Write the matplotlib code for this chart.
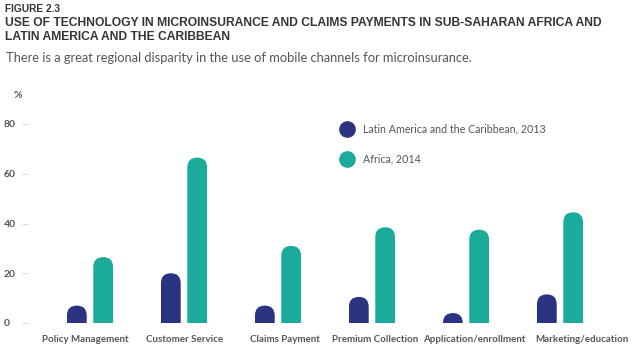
import matplotlib
matplotlib.use("Agg")
import matplotlib.pyplot as plt
from matplotlib.patches import FancyBboxPatch
from matplotlib.lines import Line2D
import numpy as np

categories = ["Policy Management", "Customer Service", "Claims Payment",
              "Premium Collection", "Application/enrollment", "Marketing/education"]
lac_2013 = [7, 20, 7, 10.5, 4, 11.5]
africa_2014 = [26.5, 66.5, 31, 38.5, 37.5, 44.5]
series_names = ["Latin America and the Caribbean, 2013", "Africa, 2014"]
yticks = [0, 20, 40, 60, 80]

NAVY = "#2b3383"
TEAL = "#1bab9b"
TITLE_C = "#353535"
GRAY = "#555555"

W, H = 635, 354
fig = plt.figure(figsize=(W / 100, H / 100), dpi=100)
fig.patch.set_facecolor("white")

ax_l, ax_r, ax_t, ax_b = 28, 625, 124, 323
ax = fig.add_axes([ax_l / W, (H - ax_b) / H, (ax_r - ax_l) / W, (ax_b - ax_t) / H])

x = np.arange(len(categories))
bw = 0.21
off = 0.14
xlim = ((ax_l - 90) / 94.0, (ax_r - 90) / 94.0)
ylim = (0, 80)
ax.set_xlim(*xlim)
ax.set_ylim(*ylim)

# aspect for rounded tops: y-units per pixel / x-units per pixel
px_x = (xlim[1] - xlim[0]) / (ax_r - ax_l)
px_y = (ylim[1] - ylim[0]) / (ax_b - ax_t)
aspect = px_y / px_x

def rounded_bars(xs, vals, color):
    bars = ax.bar(xs, vals, bw, color=color)
    for b in bars:
        bx, bwid, bh = b.get_x(), b.get_width(), b.get_height()
        r = bwid / 2
        ry = r * aspect
        p = FancyBboxPatch((bx, -ry), bwid, bh + ry,
                           boxstyle=f"round,pad=0,rounding_size={r}",
                           mutation_aspect=aspect, facecolor=color,
                           edgecolor="none", clip_on=True)
        ax.add_patch(p)
        b.remove()

rounded_bars(x - off, lac_2013, NAVY)
rounded_bars(x + off, africa_2014, TEAL)

for s in ax.spines.values():
    s.set_visible(False)

# category labels sit slightly spread relative to the bar groups (layout only)
label_shift = np.array([-0.05, 0.01, 0.07, 0.03, 0.09, 0.23])
ax.set_xticks(x + label_shift)
ax.set_xticklabels(categories, fontsize=7, fontweight="bold", color=GRAY,
                   family=["Lato", "DejaVu Sans"])
ax.tick_params(axis="x", length=0, pad=9)

ax.set_yticks(yticks)
ax.set_yticklabels([str(v) for v in yticks], fontsize=7.5, fontweight="bold",
                   color=GRAY, family=["Lato", "DejaVu Sans"], ha="left")
ax.tick_params(axis="y", length=4, color="#dddddd", width=0.8, pad=13.5)

fig.text(14 / W, 1 - 95 / H, "%", fontsize=7.5, fontweight="bold", color=GRAY,
         va="center", ha="left", family=["Lato", "DejaVu Sans"])

handles = [Line2D([], [], linestyle="none", marker="o", markersize=11,
                  markerfacecolor=NAVY, markeredgecolor=NAVY),
           Line2D([], [], linestyle="none", marker="o", markersize=11,
                  markerfacecolor=TEAL, markeredgecolor=TEAL)]
leg = fig.legend(handles, series_names, loc="upper left",
                 bbox_to_anchor=(339.5 / W, 1 - 123.5 / H), frameon=False,
                 prop={"family": ["Lato", "DejaVu Sans"], "size": 7.7},
                 labelspacing=1.8, handletextpad=0.8, handlelength=1.4,
                 borderpad=0, borderaxespad=0)
for t in leg.get_texts():
    t.set_color(GRAY)

tfam = ["Liberation Sans", "DejaVu Sans"]
fig.text(5 / W, 1 - 11.5 / H, "FIGURE 2.3", fontsize=7.3, fontweight="bold",
         color=TITLE_C, family=tfam, va="baseline")
fig.text(5 / W, 1 - 25.5 / H,
         "USE OF TECHNOLOGY IN MICROINSURANCE AND CLAIMS PAYMENTS IN SUB-SAHARAN AFRICA AND",
         fontsize=8.7, fontweight="bold", color=TITLE_C, family=tfam, va="baseline")
fig.text(5 / W, 1 - 40.5 / H, "LATIN AMERICA AND THE CARIBBEAN",
         fontsize=8.7, fontweight="bold", color=TITLE_C, family=tfam, va="baseline")
fig.text(6 / W, 1 - 61.5 / H,
         "There is a great regional disparity in the use of mobile channels for microinsurance.",
         fontsize=9.3, color=GRAY, family=["Lato", "DejaVu Sans"], va="baseline")

fig.savefig("out.png", dpi=100, facecolor="white")
